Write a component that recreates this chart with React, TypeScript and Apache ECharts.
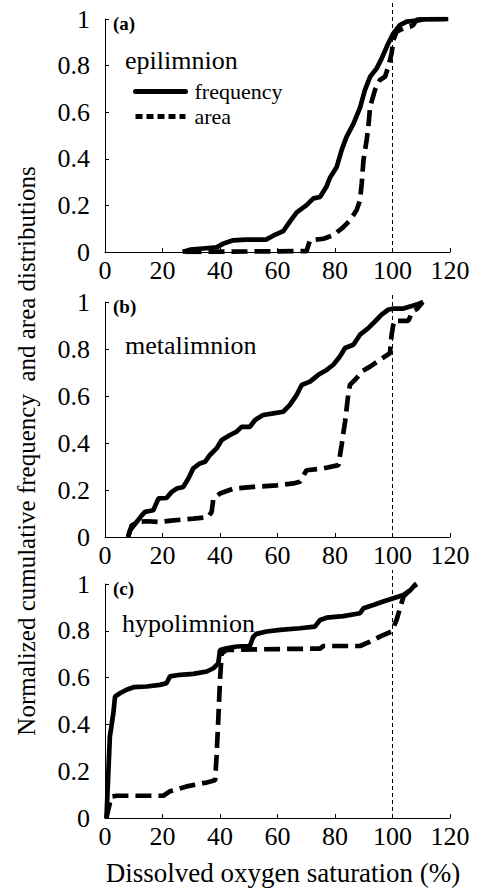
import React, { useEffect, useRef } from "react";
import * as echarts from "echarts";

// ---- data (x = DO saturation %, y = normalized cumulative value) ----
const xTicks = [0, 20, 40, 60, 80, 100, 120];
const yTicks = [0, 0.2, 0.4, 0.6, 0.8, 1];
const panelLabels = ["(a)", "(b)", "(c)"];
const layerNames = ["epilimnion", "metalimnion", "hypolimnion"];
const seriesNames = ["frequency", "area"];
const referenceX = 100;
const referenceTop = [1.07, 1.03, 1.06];

const epiFrequency: [number, number][] = [
  [27, 0], [29.6, 0.01], [34, 0.015], [38.8, 0.02], [41, 0.035], [44.6, 0.05], [49, 0.053],
  [56, 0.053], [58.5, 0.07], [62, 0.09], [64.3, 0.13], [66.7, 0.17], [70, 0.2], [72.5, 0.23],
  [74.8, 0.236], [77, 0.28], [78.3, 0.32], [80.6, 0.365], [82.3, 0.437], [84, 0.494],
  [86.4, 0.55], [88.7, 0.62], [90.4, 0.695], [92.2, 0.752], [94.5, 0.788], [96.2, 0.83],
  [98.5, 0.895], [100.3, 0.938], [102.6, 0.974], [104.9, 0.989], [108.4, 0.993],
  [110.7, 0.998], [119.4, 1],
];
const epiArea: [number, number][] = [
  [28, 0], [70.1, 0.004], [71.3, 0.05], [76, 0.057], [79.4, 0.072], [82.9, 0.107],
  [85.2, 0.136], [87.5, 0.179], [88.7, 0.222], [89.3, 0.294], [89.9, 0.394], [91, 0.48],
  [91.6, 0.537], [92.2, 0.623], [93.9, 0.695], [95.6, 0.738], [97.4, 0.752], [98.5, 0.795],
  [99.7, 0.852], [100.3, 0.91], [101.4, 0.946], [103.8, 0.96], [106.1, 0.967],
  [107.2, 0.974], [108.4, 0.996], [110.7, 1], [119.4, 1],
];
const metaFrequency: [number, number][] = [
  [8, 0], [8.7, 0.028], [11, 0.064], [12.8, 0.092], [13.9, 0.107], [16.8, 0.114],
  [18.6, 0.164], [21.4, 0.166], [23.2, 0.192], [25, 0.206], [27.2, 0.213], [29, 0.249],
  [30.7, 0.292], [33, 0.313], [34.8, 0.32], [36.5, 0.349], [38.8, 0.377], [40.6, 0.413],
  [43.5, 0.434], [45.8, 0.448], [47.5, 0.469], [50.4, 0.469], [52.2, 0.498], [55, 0.519],
  [58.5, 0.526], [62, 0.533], [64.3, 0.562], [66.7, 0.605], [68.4, 0.647], [71.3, 0.661],
  [74.2, 0.69], [77.1, 0.711], [79.4, 0.733], [81.7, 0.768], [83.5, 0.804], [86.4, 0.818],
  [88.7, 0.861], [91.6, 0.889], [93.9, 0.917], [96.2, 0.946], [98.5, 0.967], [100.3, 0.972],
  [103.8, 0.972], [106.1, 0.981], [108.4, 0.989], [110.7, 1],
];
const metaArea: [number, number][] = [
  [8, 0], [9.3, 0.05], [11.6, 0.064], [14.5, 0.067], [19.1, 0.064], [23.8, 0.071],
  [30.7, 0.078], [35.9, 0.085], [37.1, 0.107], [37.7, 0.164], [40, 0.185], [44.6, 0.206],
  [51.6, 0.213], [59.7, 0.22], [65.5, 0.228], [67.8, 0.235], [70.1, 0.284], [75.9, 0.292],
  [81.2, 0.306], [82.3, 0.391], [83.5, 0.491], [84.6, 0.605], [85.2, 0.647], [87.5, 0.676],
  [89.3, 0.704], [92.2, 0.725], [95.6, 0.754], [99.1, 0.782], [99.7, 0.861],
  [100.5, 0.92], [105.5, 0.92], [107, 0.96], [108.5, 0.97], [110.5, 1],
];
const hypoFrequency: [number, number][] = [
  [0.5, 0], [1.2, 0.206], [1.7, 0.349], [2.9, 0.448], [3.5, 0.519], [5.2, 0.533],
  [7.5, 0.548], [9.9, 0.559], [14.5, 0.562], [19.1, 0.569], [21.4, 0.576], [22.6, 0.605],
  [26.1, 0.612], [30.7, 0.616], [35.4, 0.626], [37.7, 0.64], [39.4, 0.661], [40, 0.718],
  [42.3, 0.725], [45.8, 0.733], [50.4, 0.735], [51.6, 0.775], [52.7, 0.787], [56.2, 0.797],
  [60.9, 0.804], [67.8, 0.811], [73, 0.818], [74.8, 0.846], [77.1, 0.856], [82.9, 0.863],
  [88.7, 0.875], [89.9, 0.896], [93.3, 0.91], [96.8, 0.925], [100.3, 0.939], [103.8, 0.953],
  [106.1, 0.972], [107.8, 0.996], [108.4, 1],
];
const hypoArea: [number, number][] = [
  [0.5, 0], [1.7, 0.064], [2.3, 0.092], [4.1, 0.095], [13.3, 0.095], [20.3, 0.095],
  [22.6, 0.114], [28.4, 0.135], [35.4, 0.152], [38.3, 0.161], [38.8, 0.263], [39.4, 0.42],
  [40, 0.59], [40.6, 0.704], [42.3, 0.718], [53.9, 0.721], [74.8, 0.724], [75.9, 0.735],
  [88.7, 0.735], [92.2, 0.754], [95.6, 0.775], [99.7, 0.797], [101.4, 0.846],
  [103.8, 0.946], [106.1, 0.974], [108.4, 1],
];

const frequencySets = [epiFrequency, metaFrequency, hypoFrequency];
const areaSets = [epiArea, metaArea, hypoArea];

const FONT = "Liberation Serif";
const W = 477;
const H = 888;
const gridTops = [19, 302, 584];
const gridHeights = [233, 235, 234];
const gridLeft = 105;
const gridWidth = 345;

const tickText = { fontFamily: FONT, fontSize: 26, color: "#000" };

export default function App() {
  const ref = useRef<HTMLDivElement>(null);
  useEffect(() => {
    if (!ref.current) return;
    const chart = echarts.init(ref.current, null, { renderer: "svg" });
    const grids = gridTops.map((t, i) => ({
      left: gridLeft,
      top: t,
      width: gridWidth,
      height: gridHeights[i],
      containLabel: false,
    }));
    const xAxes = grids.map((_, i) => ({
      type: "value",
      gridIndex: i,
      min: xTicks[0],
      max: xTicks[xTicks.length - 1],
      interval: xTicks[1] - xTicks[0],
      axisLine: { show: true, onZero: false, lineStyle: { color: "#000", width: 1 } },
      axisTick: { show: true, inside: true, length: 4, lineStyle: { color: "#000" } },
      axisLabel: { ...tickText, margin: 5 },
      splitLine: { show: false },
    }));
    const yAxes = grids.map((_, i) => ({
      type: "value",
      gridIndex: i,
      min: yTicks[0],
      max: yTicks[yTicks.length - 1],
      interval: yTicks[1] - yTicks[0],
      axisLine: { show: true, lineStyle: { color: "#000", width: 1 } },
      axisTick: { show: true, inside: true, length: 4, lineStyle: { color: "#000" } },
      axisLabel: { ...tickText, margin: 15 },
      splitLine: { show: false },
    }));
    const series: any[] = [];
    grids.forEach((_, i) => {
      series.push({
        name: seriesNames[0],
        type: "line",
        xAxisIndex: i,
        yAxisIndex: i,
        data: frequencySets[i],
        symbol: "none",
        lineStyle: { color: "#000", width: 4.7, type: "solid" },
        itemStyle: { color: "#000" },
      });
      series.push({
        name: seriesNames[1],
        type: "line",
        xAxisIndex: i,
        yAxisIndex: i,
        data: areaSets[i],
        symbol: "none",
        lineStyle: { color: "#000", width: 4.7, type: [16, 7] },
        itemStyle: { color: "#000" },
      });
      series.push({
        name: "ref" + i,
        type: "line",
        xAxisIndex: i,
        yAxisIndex: i,
        data: [
          [referenceX, 0],
          [referenceX, referenceTop[i]],
        ],
        symbol: "none",
        clip: false,
        silent: true,
        lineStyle: { color: "#000", width: 1, type: [4, 3] },
      });
    });
    const graphic: any[] = [];
    panelLabels.forEach((lab, i) => {
      graphic.push({
        type: "text",
        left: 113,
        top: gridTops[i] - 5,
        style: { text: lab, font: `bold 19px ${FONT}`, fill: "#000" },
      });
    });
    const layerPos = [
      [125, 60],
      [125, 345],
      [122, 623],
    ];
    layerNames.forEach((nm, i) => {
      graphic.push({
        type: "text",
        x: layerPos[i][0],
        y: layerPos[i][1],
        style: {
          text: nm,
          font: `26px ${FONT}`,
          fill: "#000",
          textAlign: "left",
          textVerticalAlign: "middle",
        },
      });
    });
    graphic.push({
      type: "text",
      x: 283,
      y: 873,
      style: {
        text: "Dissolved oxygen saturation (%)",
        font: `27px ${FONT}`,
        fill: "#000",
        textAlign: "center",
        textVerticalAlign: "middle",
      },
    });
    graphic.push({
      type: "text",
      x: 26.5,
      y: 451,
      rotation: Math.PI / 2,
      style: {
        text: "Normalized cumulative frequency  and area distributions",
        font: `25px ${FONT}`,
        fill: "#000",
        textAlign: "center",
        textVerticalAlign: "middle",
      },
    });
    chart.setOption({
      animation: false,
      backgroundColor: "#fff",
      textStyle: { fontFamily: FONT },
      grid: grids,
      xAxis: xAxes,
      yAxis: yAxes,
      legend: {
        orient: "vertical",
        left: 133,
        top: 79,
        padding: 0,
        itemWidth: 50,
        itemHeight: 16,
        itemGap: 0,
        itemStyle: { opacity: 0 },
        data: [
          { name: seriesNames[0], lineStyle: { width: 5, cap: "round" } },
          { name: seriesNames[1], lineStyle: { type: [7, 4], width: 5 } },
        ],
        textStyle: {
          color: "#000",
          fontFamily: FONT,
          fontSize: 22,
          lineHeight: 25,
          padding: [0, 0, 0, 4],
        },
      },
      series,
      graphic,
    });
    return () => chart.dispose();
  }, []);
  return (
    <div
      ref={ref}
      style={{ position: "fixed", left: 0, top: 0, width: W, height: H, background: "#fff" }}
    />
  );
}
